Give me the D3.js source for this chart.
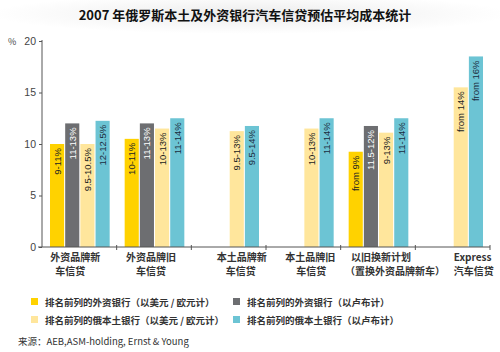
<!DOCTYPE html>
<html>
<head>
<meta charset="utf-8">
<script src="https://cdn.jsdelivr.net/npm/d3@7"></script>
<style>
  body { margin: 0; background: #fff; }
  svg { display: block; font-family: "Noto Sans CJK SC", "DejaVu Sans", sans-serif; }
  .title { font-size: 13px; font-weight: bold; fill: #111; }
  .axis path, .axis line { stroke: #555; }
  .axis text { font-family: "Liberation Sans Narrow", "Liberation Sans", sans-serif; font-size: 10.5px; fill: #444; }
  .cat { font-size: 10px; font-weight: bold; fill: #333; }
  .barlabel { font-family: "Liberation Sans Narrow", "Liberation Sans", sans-serif; font-size: 9.5px; }
  .legend text { font-size: 9.5px; font-weight: bold; fill: #333; }
  .source { font-family: "Liberation Sans Narrow", "Noto Sans CJK SC", sans-serif; font-size: 9.5px; fill: #333; }
</style>
</head>
<body>
<svg id="chart" width="500" height="352"></svg>
<script>
// categories (two lines each)
const categories = [
  ["外资品牌新", "车信贷"],
  ["外资品牌旧", "车信贷"],
  ["本土品牌新", "车信贷"],
  ["本土品牌旧", "车信贷"],
  ["以旧换新计划", "（置换外资品牌新车）"],
  ["Express", "汽车信贷"]
];
const seriesNames = [
  "排名前列的外资银行（以美元 / 欧元计）",
  "排名前列的外资银行（以卢布计）",
  "排名前列的俄本土银行（以美元 / 欧元计）",
  "排名前列的俄本土银行（以卢布计）"
];
// bar heights (%), null = no bar
const foreignUsd = [10, 10.5, null, null, 9.25, null];
const foreignRub = [12, 12, null, null, 11.75, null];
const localUsd   = [10, 11.5, 11.25, 11.5, 11.1, 15.5];
const localRub   = [12.25, 12.5, 11.75, 12.5, 12.5, 18.5];
// text on the bars
const foreignUsdLabels = ["9-11%", "10-11%", null, null, "from 9%", null];
const foreignRubLabels = ["11-13%", "11-13%", null, null, "11.5-12%", null];
const localUsdLabels   = ["9.5-10.5%", "10-13%", "9.5-13%", "10-13%", "9-13%", "from 14%"];
const localRubLabels   = ["12-12.5%", "11-14%", "9.5-14%", "11-14%", "11-14%", "from 16%"];
const yTicks = [0, 5, 10, 15, 20];

const colors = ["#ffd200", "#6d6e71", "#ffe69c", "#6cc4d4"];
const labelColors = ["#222", "#fff", "#222", "#1b2c40"];
// horizontal nudges for the two-line category labels
const catShift = [[-4, -9], [-3, -3], [13, 12], [7, 8], [3, 17], [20, 21]];

const values = [foreignUsd, foreignRub, localUsd, localRub];
const labels = [foreignUsdLabels, foreignRubLabels, localUsdLabels, localRubLabels];

const svg = d3.select("#chart");
const mLeft = 42, mRight = 490, mTop = 41, mBottom = 247;

// faint shading behind the title
const defs = svg.append("defs");
const grad = defs.append("radialGradient").attr("id", "shade");
grad.append("stop").attr("offset", "0%").attr("stop-color", "#ececec");
grad.append("stop").attr("offset", "100%").attr("stop-color", "#ffffff");
svg.append("ellipse").attr("cx", 250).attr("cy", 14).attr("rx", 260).attr("ry", 20).attr("fill", "url(#shade)");

svg.append("text").attr("class", "title")
  .attr("x", 245).attr("y", 20).attr("text-anchor", "middle")
  .text("2007 年俄罗斯本土及外资银行汽车信贷预估平均成本统计");

const x = d3.scaleBand().domain(d3.range(categories.length)).range([mLeft, mRight]);
const xs = d3.scaleBand().domain(d3.range(4)).range([8, x.bandwidth() - 7]).paddingInner(0.07);
const y = d3.scaleLinear().domain([0, 20]).range([mBottom, mTop]);

// y axis
const yAxis = svg.append("g").attr("class", "axis")
  .attr("transform", `translate(${mLeft},0)`)
  .call(d3.axisLeft(y).tickValues(yTicks).tickSize(3).tickSizeOuter(0).tickPadding(3));
yAxis.select(".domain").attr("d", `M0,${mTop - 1}V${mBottom}`);

svg.append("text").attr("x", 8).attr("y", 45)
  .style("font-size", "9px").style("fill", "#444").text("%");

// bars
const flat = [];
values.forEach((arr, s) => arr.forEach((v, i) => {
  if (v != null) flat.push({s, i, v, label: labels[s][i]});
}));

const bars = svg.append("g");
bars.selectAll("rect").data(flat).enter().append("rect")
  .attr("x", d => x(d.i) + xs(d.s))
  .attr("width", xs.bandwidth())
  .attr("y", d => y(d.v))
  .attr("height", d => y(0) - y(d.v))
  .attr("fill", d => colors[d.s]);

bars.selectAll("text").data(flat).enter().append("text")
  .attr("class", "barlabel")
  .attr("transform", d => `translate(${x(d.i) + xs(d.s) + xs.bandwidth() / 2 + 3.5},${y(d.v) + 4}) rotate(-90)`)
  .attr("text-anchor", "end")
  .attr("fill", d => labelColors[d.s])
  .text(d => d.label);

// x axis
const xa = svg.append("g").attr("class", "axis");
xa.append("line").attr("x1", mLeft - 4).attr("x2", mRight).attr("y1", mBottom).attr("y2", mBottom);
xa.selectAll(".tick").data(d3.range(1, categories.length + 1)).enter().append("line")
  .attr("x1", i => i < categories.length ? x(i) : mRight).attr("x2", i => i < categories.length ? x(i) : mRight)
  .attr("y1", mBottom - 2).attr("y2", mBottom + 3);

const cats = svg.append("g");
categories.forEach((c, i) => {
  c.forEach((line, j) => {
    cats.append("text").attr("class", "cat")
      .attr("x", x(i) + x.bandwidth() / 2 + catShift[i][j])
      .attr("y", 261 + j * 14)
      .attr("text-anchor", "middle")
      .text(line);
  });
});

// legend
const legendPos = [[31, 302], [233, 302], [31, 320], [233, 320]];
const legend = svg.append("g").attr("class", "legend");
seriesNames.forEach((n, s) => {
  legend.append("rect").attr("x", legendPos[s][0]).attr("y", legendPos[s][1] - 4)
    .attr("width", 7).attr("height", 7).attr("fill", colors[s]);
  legend.append("text").attr("x", legendPos[s][0] + 14).attr("y", legendPos[s][1] + 3.5).text(n);
});

svg.append("text").attr("class", "source").attr("x", 18).attr("y", 345)
  .text("来源：AEB,ASM-holding, Ernst & Young");
</script>
</body>
</html>
